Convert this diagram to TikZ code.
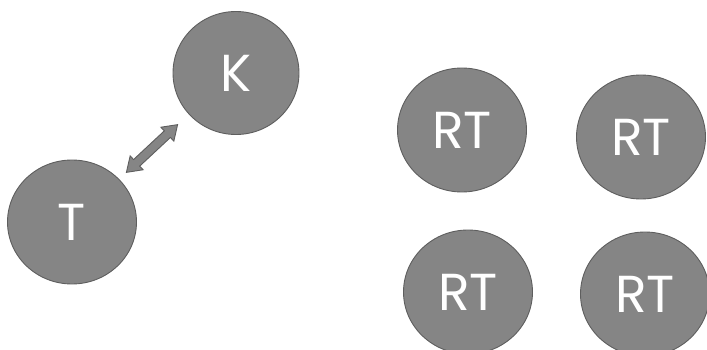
\documentclass[tikz,border=0pt]{standalone}
\usepackage{fontspec}
\setmainfont{Poppins}
\usetikzlibrary{shapes.geometric}
\definecolor{circfill}{HTML}{858585}
\definecolor{circline}{HTML}{5E5E5E}
\begin{document}
\begin{tikzpicture}[x=1pt,y=-1pt,
  circ/.style={ellipse, draw=circline, line width=0.9pt, fill=circfill, minimum width=129pt, minimum height=124pt, inner sep=0pt, text=white, font=\fontsize{52}{52}\selectfont}]
\useasboundingbox (0,0) rectangle (707,350);
\clip (0,0) rectangle (707,350);
\node[circ, minimum width=126pt, minimum height=123pt] (K) at (236,73) {K};
\node[circ] (T) at (72,222) {T};
\node[circ] (rt1) at (462,130) {RT};
\node[circ] (rt2) at (641,137) {RT};
\node[circ] (rt3) at (468,292) {RT};
\node[circ] (rt4) at (645,294) {RT};
\coordinate (amid) at (152,148.5);
\begin{scope}[shift={(amid)}, rotate=43]
\draw[circline, fill=circfill, line width=0.9pt, line join=miter]
  (-35,0) -- (-21,9.5) -- (-21,4.5) -- (21,4.5) -- (21,9.5) -- (35,0) -- (21,-9.5) -- (21,-4.5) -- (-21,-4.5) -- (-21,-9.5) -- cycle;
\end{scope}
\end{tikzpicture}
\end{document}
